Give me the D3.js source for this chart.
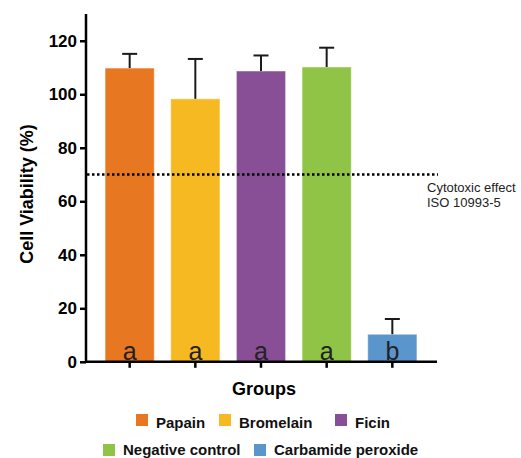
<!DOCTYPE html>
<html><head><meta charset="utf-8">
<script src="https://cdn.jsdelivr.net/npm/d3@7"></script>
<style>body{margin:0;background:#fff}text{font-family:"Liberation Sans",Arial,sans-serif}</style>
</head><body>
<svg id="c" width="521" height="458"></svg>
<script>
const categories = ["Papain","Bromelain","Ficin","Negative control","Carbamide peroxide"];
const values = [109.8, 98.3, 108.7, 110.2, 10.3];
const errors = [5.3, 14.9, 5.8, 7.2, 5.7];
const letters = ["a","a","a","a","b"];
const colors = ["#E87722","#F6B922","#884E96","#8FC447","#5A96CC"];
const yTicks = [0,20,40,60,80,100,120];
const threshold = 70;

const svg = d3.select("#c");
const y = d3.scaleLinear().domain([0,130]).range([361.8,14]);
const x = d3.scaleBand().domain(categories).range([86,436]).paddingInner(0.25).paddingOuter(0.29);

// bars
svg.selectAll("rect.bar").data(categories).join("rect")
  .attr("x", d=>x(d)).attr("width", x.bandwidth())
  .attr("y", (d,i)=>y(values[i])).attr("height",(d,i)=>y(0)-y(values[i]))
  .attr("fill",(d,i)=>colors[i]).attr("stroke","#fff").attr("stroke-opacity",0.5).attr("stroke-width",1);

// error bars
const eg = svg.append("g").attr("stroke","#1a1a1a").attr("stroke-width",2);
categories.forEach((c,i)=>{
  const cx = x(c)+x.bandwidth()/2;
  eg.append("line").attr("x1",cx).attr("x2",cx).attr("y1",y(values[i])).attr("y2",y(values[i]+errors[i]));
  eg.append("line").attr("x1",cx-7.5).attr("x2",cx+7.5).attr("y1",y(values[i]+errors[i])).attr("y2",y(values[i]+errors[i]));
});

// letters
svg.selectAll("text.let").data(categories).join("text")
  .attr("x", d=>x(d)+x.bandwidth()/2).attr("y", y(0)-2)
  .attr("text-anchor","middle").attr("font-size",25).attr("fill","#222")
  .text((d,i)=>letters[i]);

// y axis
const ya = svg.append("g").attr("transform","translate(86,0)")
  .call(d3.axisLeft(y).tickValues(yTicks).tickSize(6).tickPadding(3));
ya.select(".domain").attr("d","M0,"+y(130)+"V"+y(0)).attr("stroke","#000").attr("stroke-width",2.5);
ya.selectAll(".tick line").attr("stroke","#000").attr("stroke-width",2.5);
ya.selectAll(".tick text").attr("font-size",17).attr("font-weight","bold").attr("fill","#000")
  .style("font-family","'Liberation Sans',Arial,sans-serif");

// x axis
const xa = svg.append("g").attr("transform","translate(0,"+y(0)+")")
  .call(d3.axisBottom(x).tickSize(6).tickFormat(""));
xa.select(".domain").attr("d","M85,0H437").attr("stroke","#000").attr("stroke-width",2.5);
xa.selectAll(".tick line").attr("stroke","#000").attr("stroke-width",2.5);

// threshold line
svg.append("line").attr("x1",87).attr("x2",438).attr("y1",y(threshold)).attr("y2",y(threshold))
  .attr("stroke","#000").attr("stroke-width",2.5).attr("stroke-dasharray","2.5,2.5");
svg.append("text").attr("x",427).attr("y",192).attr("font-size",13).attr("fill","#222").text("Cytotoxic effect");
svg.append("text").attr("x",427).attr("y",207).attr("font-size",13).attr("fill","#222").text("ISO 10993-5");

// axis titles
svg.append("text").attr("transform","translate(33,194) rotate(-90)").attr("text-anchor","middle")
  .attr("font-size",18).attr("font-weight","bold").text("Cell Viability (%)");
svg.append("text").attr("x",264).attr("y",395).attr("text-anchor","middle")
  .attr("font-size",18).attr("font-weight","bold").text("Groups");

// legend
const legPos = [[136,414],[219,414],[335,414],[103,444],[254,444]];
categories.forEach((c,i)=>{
  const [lx,ly] = legPos[i];
  svg.append("rect").attr("x",lx).attr("y",ly).attr("width",12).attr("height",12).attr("fill",colors[i]);
  svg.append("text").attr("x",lx+20).attr("y",ly+(i<3?13.5:11)).attr("font-size",15).attr("font-weight","bold").attr("fill","#111").text(c);
});
</script>
</body></html>
